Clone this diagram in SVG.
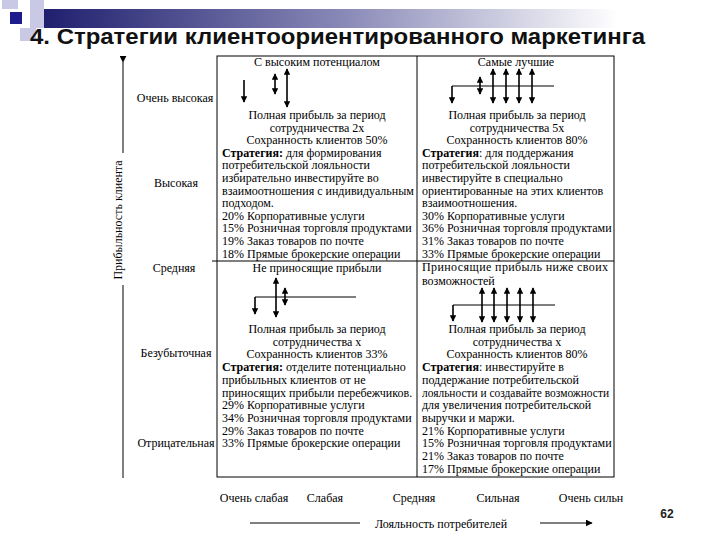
<svg xmlns="http://www.w3.org/2000/svg" width="720" height="540" viewBox="0 0 720 540">
<defs>
<linearGradient id="bar" x1="0" y1="0" x2="1" y2="0">
<stop offset="0" stop-color="#1e1e6e"/>
<stop offset="0.45" stop-color="#8a8ab8"/>
<stop offset="0.85" stop-color="#ffffff"/>
</linearGradient>
<marker id="ah" viewBox="0 0 10 10" refX="9" refY="5" markerWidth="4" markerHeight="4" orient="auto-start-reverse" markerUnits="strokeWidth">
<path d="M0,0 L10,5 L0,10 z" fill="#000"/>
</marker>
<marker id="ah2" viewBox="0 0 10 10" refX="9" refY="5" markerWidth="7" markerHeight="7" orient="auto" markerUnits="strokeWidth">
<path d="M0,0 L10,5 L0,10 z" fill="#000"/>
</marker>
</defs>
<style>
.t{font-family:"Liberation Serif","Times New Roman",serif;font-size:12px;fill:#000}
.c{text-anchor:middle}
.b{font-weight:bold}
.ax{font-family:"Liberation Serif","Times New Roman",serif;font-size:12px;fill:#000;text-anchor:middle}
.grid{stroke:#000;stroke-width:1;fill:none}
.ar{stroke:#000;stroke-width:1.6;fill:none;marker-end:url(#ah)}
.ard{stroke:#000;stroke-width:1.6;fill:none;marker-start:url(#ah);marker-end:url(#ah)}
.hl{stroke:#000;stroke-width:1.2;fill:none}
.axl{stroke:#000;stroke-width:1;fill:none}
</style>
<rect width="720" height="540" fill="#fff"/>
<g id="decor">
<rect x="40" y="9" width="680" height="19" fill="url(#bar)"/>
<rect x="2" y="0" width="16" height="9" fill="#c9c9e6"/>
<rect x="30" y="0" width="14" height="28" fill="#c9c9e6"/>
<rect x="20" y="28" width="16" height="13" fill="#c9c9e6"/>
<rect x="10" y="12" width="12" height="12" fill="#1c1c8e"/>
</g>
<g id="title">
<text x="30" y="44" font-family="Liberation Sans, Arial, sans-serif" font-weight="bold" font-size="22" textLength="615" lengthAdjust="spacingAndGlyphs" fill="#111">4. Стратегии клиентоориентированного маркетинга</text>
</g>
<g id="grid">
<rect class="grid" x="217" y="56" width="397" height="421"/>
<line class="grid" x1="417" y1="56" x2="417" y2="477"/>
<line class="grid" x1="212" y1="261" x2="614" y2="261"/>
</g>
<g id="y-axis">
<line class="axl" x1="123" y1="62" x2="123" y2="153" marker-start="url(#ah2)"/>
<line class="axl" x1="123" y1="285" x2="123" y2="478"/>
<text class="ax" transform="translate(122,220) rotate(-90)" font-size="13">Прибыльность клиента</text>
<text class="ax" x="175" y="102">Очень высокая</text>
<text class="ax" x="176" y="187">Высокая</text>
<text class="ax" x="174" y="272">Средняя</text>
<text class="ax" x="176" y="357">Безубыточная</text>
<text class="ax" x="176" y="447">Отрицательная</text>
</g>
<g id="x-axis">
<text class="ax" x="254" y="502">Очень слабая</text>
<text class="ax" x="325" y="502">Слабая</text>
<text class="ax" x="414" y="502">Средняя</text>
<text class="ax" x="498" y="502">Сильная</text>
<text class="ax" x="591" y="502">Очень сильн</text>
<line class="axl" x1="250" y1="523" x2="360" y2="523"/>
<text class="ax" x="441" y="528" font-size="13">Лояльность потребителей</text>
<line class="axl" x1="540" y1="523" x2="592" y2="523" marker-end="url(#ah2)"/>
<text x="667" y="518" font-family="Liberation Sans, Arial, sans-serif" font-weight="bold" font-size="12" text-anchor="middle" fill="#222">62</text>
</g>
<g id="connectors">
<line class="ar" x1="244" y1="80" x2="244" y2="102"/>
<line class="ard" x1="275" y1="74" x2="275" y2="94"/>
<line class="ard" x1="287" y1="69" x2="287" y2="107"/>
<line class="hl" x1="452" y1="86" x2="554" y2="86"/>
<line class="ar" x1="452" y1="86" x2="452" y2="103"/>
<line class="ard" x1="480" y1="77" x2="480" y2="94"/>
<line class="ard" x1="493" y1="69" x2="493" y2="103"/>
<line class="ard" x1="506" y1="69" x2="506" y2="103"/>
<line class="ard" x1="519" y1="69" x2="519" y2="103"/>
<line class="ard" x1="532" y1="69" x2="532" y2="103"/>
<line class="hl" x1="255" y1="297" x2="356" y2="297"/>
<line class="ar" x1="255" y1="297" x2="255" y2="314"/>
<line class="ard" x1="276" y1="278" x2="276" y2="317"/>
<line class="ard" x1="285" y1="288" x2="285" y2="305"/>
<line class="hl" x1="453" y1="305" x2="555" y2="305"/>
<line class="ar" x1="453" y1="305" x2="453" y2="321"/>
<line class="ard" x1="482" y1="288" x2="482" y2="322"/>
<line class="ard" x1="494" y1="288" x2="494" y2="322"/>
<line class="ard" x1="507" y1="288" x2="507" y2="322"/>
<line class="ard" x1="520" y1="288" x2="520" y2="322"/>
<line class="ard" x1="533" y1="288" x2="533" y2="322"/>
</g>
<g id="q-top-left">
<text class="t c" x="317" y="66">С высоким потенциалом</text>
<text class="t c" x="317" y="119">Полная прибыль за период</text>
<text class="t c" x="317" y="131.6">сотрудничества 2х</text>
<text class="t c" x="317" y="144.2">Сохранность клиентов 50%</text>
<text class="t" x="222" y="156.8"><tspan class="b">Стратегия:</tspan> для формирования</text>
<text class="t" x="222" y="169.4">потребительской лояльности</text>
<text class="t" x="222" y="182">избирательно инвестируйте во</text>
<text class="t" x="222" y="194.6">взаимоотношения с индивидуальным</text>
<text class="t" x="222" y="207.2">подходом.</text>
<text class="t" x="222" y="219.8">20% Корпоративные услуги</text>
<text class="t" x="222" y="232.4">15% Розничная торговля продуктами</text>
<text class="t" x="222" y="245">19% Заказ товаров по почте</text>
<text class="t" x="222" y="257.6">18% Прямые брокерские операции</text>
</g>
<g id="q-top-right">
<text class="t c" x="516" y="66">Самые лучшие</text>
<text class="t c" x="517" y="119">Полная прибыль за период</text>
<text class="t c" x="517" y="131.6">сотрудничества 5х</text>
<text class="t c" x="517" y="144.2">Сохранность клиентов 80%</text>
<text class="t" x="422" y="156.8"><tspan class="b">Стратегия</tspan>: для поддержания</text>
<text class="t" x="422" y="169.4">потребительской лояльности</text>
<text class="t" x="422" y="182">инвестируйте в специально</text>
<text class="t" x="422" y="194.6">ориентированные на этих клиентов</text>
<text class="t" x="422" y="207.2">взаимоотношения.</text>
<text class="t" x="422" y="219.8">30% Корпоративные услуги</text>
<text class="t" x="422" y="232.4">36% Розничная торговля продуктами</text>
<text class="t" x="422" y="245">31% Заказ товаров по почте</text>
<text class="t" x="422" y="257.6">33% Прямые брокерские операции</text>
</g>
<g id="q-bottom-left">
<text class="t c" x="317" y="272">Не приносящие прибыли</text>
<text class="t c" x="317" y="333">Полная прибыль за период</text>
<text class="t c" x="317" y="345.7">сотрудничества х</text>
<text class="t c" x="317" y="358.4">Сохранность клиентов 33%</text>
<text class="t" x="222" y="371.1"><tspan class="b">Стратегия:</tspan> отделите потенциально</text>
<text class="t" x="222" y="383.8">прибыльных клиентов от не</text>
<text class="t" x="222" y="396.5">приносящих прибыли перебежчиков.</text>
<text class="t" x="222" y="409.2">29% Корпоративные услуги</text>
<text class="t" x="222" y="421.9">34% Розничная торговля продуктами</text>
<text class="t" x="222" y="434.6">29% Заказ товаров по почте</text>
<text class="t" x="222" y="447.3">33% Прямые брокерские операции</text>
</g>
<g id="q-bottom-right">
<text class="t" x="422" y="271" textLength="186" lengthAdjust="spacing">Приносящие прибыль ниже своих</text>
<text class="t" x="422" y="285">возможностей</text>
<text class="t c" x="517" y="333">Полная прибыль за период</text>
<text class="t c" x="517" y="345.7">сотрудничества х</text>
<text class="t c" x="517" y="358.4">Сохранность клиентов 80%</text>
<text class="t" x="422" y="371.1"><tspan class="b">Стратегия</tspan>: инвестируйте в</text>
<text class="t" x="422" y="383.8">поддержание потребительской</text>
<text class="t" x="422" y="396.5" textLength="187" lengthAdjust="spacingAndGlyphs">лояльности и создавайте возможности</text>
<text class="t" x="422" y="409.2">для увеличения потребительской</text>
<text class="t" x="422" y="421.9">выручки и маржи.</text>
<text class="t" x="422" y="434.6">21% Корпоративные услуги</text>
<text class="t" x="422" y="447.3">15% Розничная торговля продуктами</text>
<text class="t" x="422" y="460">21% Заказ товаров по почте</text>
<text class="t" x="422" y="472.7">17% Прямые брокерские операции</text>
</g>
</svg>
